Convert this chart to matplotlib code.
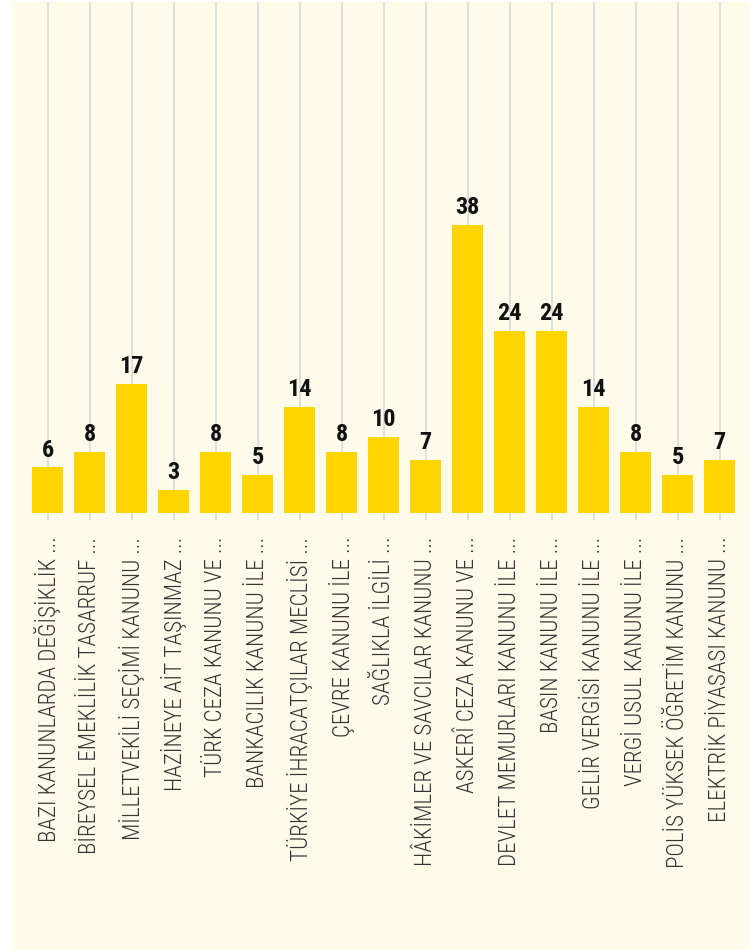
import matplotlib
matplotlib.use("Agg")
import matplotlib.pyplot as plt
from matplotlib import font_manager
from matplotlib.patches import Rectangle

labels = [
    "BAZI KANUNLARDA DEĞİŞİKLİK ...",
    "BİREYSEL EMEKLİLİK TASARRUF ...",
    "MİLLETVEKİLİ SEÇİMİ KANUNU ...",
    "HAZİNEYE AİT TAŞINMAZ ...",
    "TÜRK CEZA KANUNU VE ...",
    "BANKACILIK KANUNU İLE ...",
    "TÜRKİYE İHRACATÇILAR MECLİSİ ...",
    "ÇEVRE KANUNU İLE ...",
    "SAĞLIKLA İLGİLİ ...",
    "HÂKİMLER VE SAVCILAR KANUNU ...",
    "ASKERÎ CEZA KANUNU VE ...",
    "DEVLET MEMURLARI KANUNU İLE ...",
    "BASIN KANUNU İLE ...",
    "GELİR VERGİSİ KANUNU İLE ...",
    "VERGİ USUL KANUNU İLE ...",
    "POLİS YÜKSEK ÖĞRETİM KANUNU ...",
    "ELEKTRİK PİYASASI KANUNU ...",
]
values = [6, 8, 17, 3, 8, 5, 14, 8, 10, 7, 38, 24, 24, 14, 8, 5, 7]

# pick a condensed family if one is installed
names = {f.name for f in font_manager.fontManager.ttflist}
family = "Roboto"
for cand in ["Roboto Condensed", "Liberation Sans Narrow", "Roboto"]:
    if cand in names:
        family = cand
        break
condensed = family != "Roboto"

bg = "#fffbeb"
bar_color = "#ffd500"

fig = plt.figure(figsize=(7.49, 9.5), dpi=100)
fig.patch.set_facecolor("white")
fig.patches.append(Rectangle((12 / 749, 0), 1, 948 / 950, transform=fig.transFigure,
                             facecolor=bg, edgecolor="none", zorder=-10))

ax = fig.add_axes([26.75 / 749, 1 - 520 / 950, 713.9 / 749, 518 / 950])
ax.set_facecolor("none")

x = list(range(len(values)))
bars = ax.bar(x, values, width=0.74, color=bar_color, zorder=2)
ax.set_xlim(-0.5, len(values) - 0.5)
ax.set_ylim(-0.99, 67.47)

for xi in x:
    ax.axvline(xi, color="#dcdcdc", lw=1.3, zorder=1)

for xi, v in zip(x, values):
    ax.annotate(str(v), (xi, v), xytext=(0, 4), textcoords="offset points",
                ha="center", va="bottom", fontsize=17.5 if condensed else 15,
                fontweight="bold", family=family, color="#111111")

ax.set_xticks(x)
ax.set_xticklabels(labels, rotation=90, ha="center", va="top",
                   fontsize=16.6 if condensed else 13, family=family,
                   fontweight="light", color="#333333")
ax.tick_params(axis="x", length=0, pad=12)
ax.set_yticks([])
for s in ax.spines.values():
    s.set_visible(False)

fig.savefig("out.png", dpi=100, facecolor=fig.get_facecolor())
